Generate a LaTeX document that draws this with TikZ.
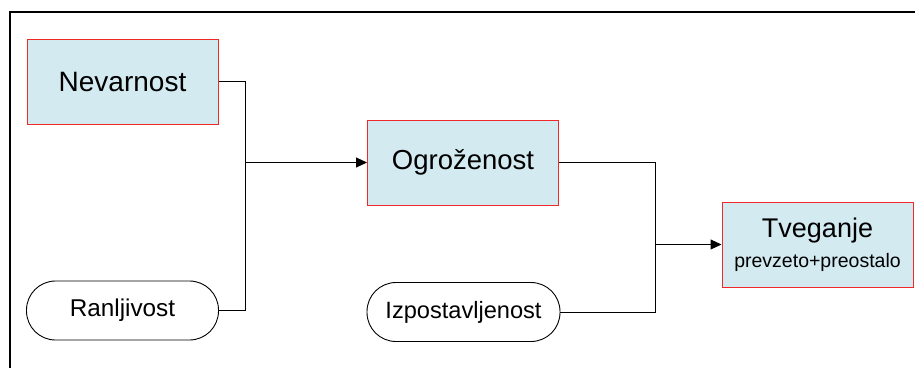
\documentclass[tikz,border=0pt]{standalone}
\usepackage{fontspec}
\setmainfont{Liberation Sans}
\usetikzlibrary{arrows.meta}
\definecolor{boxfill}{RGB}{210,234,240}
\definecolor{boxline}{RGB}{240,40,40}
\tikzset{
  factor/.style={draw=boxline, fill=boxfill, line width=1pt, inner sep=0pt,
    minimum width=191pt, minimum height=85pt, align=center},
  pill/.style={draw=black, line width=0.9pt, rounded corners=29pt, inner sep=0pt,
    minimum width=192pt, minimum height=59pt},
  link/.style={draw=black, line width=1pt},
  flow/.style={link, -{Triangle[length=11pt,width=10pt]}}
}
\begin{document}
\begin{tikzpicture}[x=1pt,y=-1pt]
  \useasboundingbox (0,0) rectangle (915,368);
  % frame (left and top edges)
  \draw[line width=2pt] (9.5,368) -- (9.5,11.5) -- (915,11.5);

  % factors
  \node[factor, font=\fontsize{28}{32}\selectfont] (nev) at (122.5,81.5) {Nevarnost};
  \node[pill, font=\fontsize{24.3}{28}\selectfont] (ran) at (122.5,310.5) {Ranljivost};
  \node[factor, font=\fontsize{27.5}{32}\selectfont] (ogr) at (463,162.5) {Ogroženost};
  \node[pill, font=\fontsize{23.6}{28}\selectfont, minimum width=193pt] (izp) at (463.5,312) {Izpostavljenost};
  \node[factor] (tve) at (817.5,244.5)
    {{\fontsize{27}{32}\selectfont Tveganje}\\[9pt]{\fontsize{19.5}{24}\selectfont prevzeto+preostalo}};

  % junctions
  \coordinate (j1) at (245,162.5);
  \coordinate (j2) at (655,244.5);

  % connectors
  \draw[link] (nev.east) -| (j1);
  \draw[link] (ran.east) -| (j1);
  \draw[flow] (j1) -- (ogr.west);
  \draw[link] (ogr.east) -| (j2);
  \draw[link] (izp.east) -| (j2);
  \draw[flow] (j2) -- (tve.west);
\end{tikzpicture}
\end{document}
